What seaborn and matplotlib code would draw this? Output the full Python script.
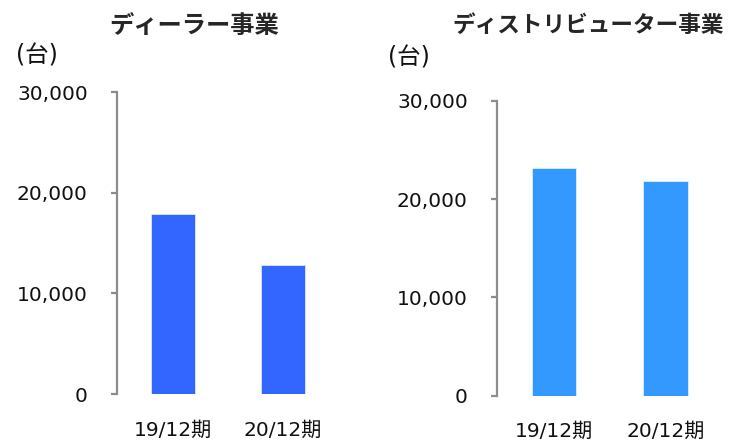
import matplotlib
matplotlib.use("Agg")
import matplotlib.pyplot as plt
import seaborn as sns
import pandas as pd
from matplotlib.ticker import FuncFormatter

periods = ["19/12期", "20/12期"]
dealer_units = [17900, 12800]
distributor_units = [23200, 21900]
yticks = [0, 10000, 20000, 30000]
titles = ["ディーラー事業", "ディストリビューター事業"]
unit_label = "(台)"

sns.set_theme(style="white")
plt.rcParams["font.family"] = ["DejaVu Sans", "Noto Sans CJK JP"]

fig = plt.figure(figsize=(7.32, 4.40), dpi=100)

spine_color = "#8c8c8c"

def style_axes(ax, ylim_top):
    ax.set_ylim(0, ylim_top)
    ax.set_xlim(-0.51, 1.51)
    ax.set_yticks(yticks)
    ax.yaxis.set_major_formatter(FuncFormatter(lambda v, p: f"{int(v):,}"))
    for s in ["top", "right", "bottom"]:
        ax.spines[s].set_visible(False)
    ax.spines["left"].set_color(spine_color)
    ax.spines["left"].set_linewidth(1.6)
    ax.tick_params(axis="y", which="major", left=True, length=4, width=1.6,
                   color=spine_color, labelsize=14.5, pad=17, labelcolor="#111111")
    ax.tick_params(axis="x", bottom=False, labelsize=14.5, pad=13, labelcolor="#111111")
    ax.set_xlabel("")
    ax.set_ylabel("")
    ax.grid(False)

ax1 = fig.add_axes([0.1598, 0.1045, 0.3033, 0.6864])
df1 = pd.DataFrame({"period": periods, "units": dealer_units})
sns.barplot(data=df1, x="period", y="units", color="#3366FF", width=0.4,
            saturation=1, ax=ax1, edgecolor="#dde6ff", linewidth=0.6)
style_axes(ax1, 30000)

ax2 = fig.add_axes([0.679, 0.1007, 0.3083, 0.6698])
df2 = pd.DataFrame({"period": periods, "units": distributor_units})
sns.barplot(data=df2, x="period", y="units", color="#3399FF", width=0.4,
            saturation=1, ax=ax2, edgecolor="#ddeeff", linewidth=0.6)
style_axes(ax2, 30000)

fig.text(194 / 732, 1 - 26 / 440, titles[0], ha="center", va="center",
         fontsize=17.5, fontweight="bold", family=["Noto Sans CJK JP"])
fig.text(588 / 732, 1 - 26 / 440, titles[1], ha="center", va="center",
         fontsize=16.3, fontweight="bold", family=["Noto Sans CJK JP"])
fig.text(16 / 732, 1 - 55 / 440, unit_label, ha="left", va="center",
         fontsize=17, family=["DejaVu Sans", "Noto Sans CJK JP"], color="#111111")
fig.text(388 / 732, 1 - 57 / 440, unit_label, ha="left", va="center",
         fontsize=17, family=["DejaVu Sans", "Noto Sans CJK JP"], color="#111111")

fig.savefig("out.png", dpi=100, facecolor="white")
